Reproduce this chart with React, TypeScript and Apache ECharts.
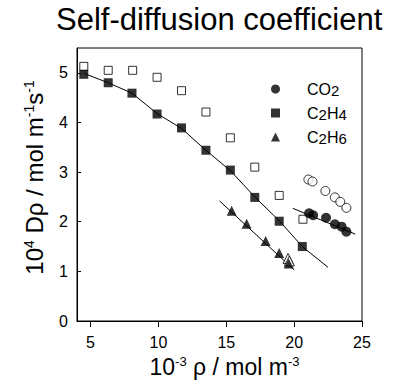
import React, { useEffect, useRef } from "react";
import * as echarts from "echarts";

const FONT = "'Liberation Sans', Arial, sans-serif";

const xTicks = [5, 10, 15, 20, 25];
const yTicks = [0, 1, 2, 3, 4, 5];

const c2h4X = [4.5, 6.3, 8.05, 9.9, 11.7, 13.5, 15.3, 17.1, 18.9, 20.6];
const c2h4Y = [4.97, 4.8, 4.59, 4.17, 3.89, 3.44, 3.04, 2.49, 2.01, 1.5];
const c2h4OpenX = [4.5, 6.3, 8.1, 9.9, 11.7, 13.5, 15.3, 17.1, 18.9, 20.65];
const c2h4OpenY = [5.13, 5.05, 5.05, 4.91, 4.64, 4.21, 3.69, 3.1, 2.53, 2.05];
const c2h4FitX = [4.5, 6.3, 8.05, 9.9, 11.7, 13.5, 15.3, 17.1, 18.9, 20.6, 22.5];
const c2h4FitY = [4.99, 4.8, 4.59, 4.18, 3.88, 3.44, 3.03, 2.5, 2.02, 1.5, 1.08];

const c2h6X = [15.4, 16.5, 17.9, 18.9, 19.6];
const c2h6Y = [2.22, 1.96, 1.61, 1.37, 1.16];
const c2h6OpenX = [19.55, 19.65];
const c2h6OpenY = [1.26, 1.21];
const c2h6FitX = [14.5, 20.0];
const c2h6FitY = [2.42, 1.03];

const co2X = [21.1, 21.4, 22.35, 23.0, 23.5, 23.85];
const co2Y = [2.17, 2.13, 2.08, 1.95, 1.9, 1.8];
const co2OpenX = [21.05, 21.35, 22.3, 23.0, 23.4, 23.85];
const co2OpenY = [2.85, 2.81, 2.62, 2.49, 2.4, 2.28];
const co2FitX = [19.9, 24.5];
const co2FitY = [2.27, 1.75];

const legendNames = ["CO2", "C2H4", "C2H6"];
const legendIcons = ["circle", "rect", "triangle"];

const zip = (xs: number[], ys: number[]) => xs.map((x, i) => [x, ys[i]]);

export default function App() {
  const ref = useRef<HTMLDivElement>(null);
  useEffect(() => {
    if (!ref.current) return;
    const chart = echarts.init(ref.current, undefined, { renderer: "svg" });
    const filled = (name: string, symbol: string, size: number, xs: number[], ys: number[]) => ({
      name,
      type: "scatter",
      symbol,
      symbolSize: size,
      data: zip(xs, ys),
      itemStyle: { color: "#000" },
      z: 4,
    });
    const open = (symbol: string, size: number, xs: number[], ys: number[]) => ({
      type: "scatter",
      symbol,
      symbolSize: size,
      data: zip(xs, ys),
      itemStyle: { color: "#fff", borderColor: "#000", borderWidth: 1 },
      z: 3,
    });
    const fit = (xs: number[], ys: number[]) => ({
      type: "line",
      data: zip(xs, ys),
      showSymbol: false,
      symbol: "none",
      lineStyle: { color: "#000", width: 1 },
      z: 2,
    });
    const supStyle = { fontFamily: FONT, fontSize: 13, lineHeight: 12, verticalAlign: "top", color: "#000" };
    chart.setOption({
      animation: false,
      backgroundColor: "#fff",
      title: {
        text: "Self-diffusion coefficient",
        left: 56,
        top: 4,
        padding: 0,
        textStyle: { fontFamily: FONT, fontSize: 31, fontWeight: "normal", color: "#000" },
      },
      legend: {
        data: legendNames.map((n, i) => ({ name: n, icon: legendIcons[i] })),
        orient: "vertical",
        left: 271,
        top: 81,
        padding: 0,
        itemWidth: 9,
        itemHeight: 9,
        itemGap: 7,
        selectedMode: false,
        formatter: (n: string) => n.replace(/(\D+)/g, "{n|$1}").replace(/(\d)/g, "{s|$1}"),
        textStyle: {
          fontFamily: FONT,
          color: "#000",
          padding: [0, 0, 0, 22],
          rich: {
            n: { fontFamily: FONT, fontSize: 16, lineHeight: 18, color: "#000", verticalAlign: "middle" },
            s: { fontFamily: FONT, fontSize: 15, lineHeight: 10, color: "#000", verticalAlign: "bottom" },
          },
        },
      },
      grid: {
        left: 77,
        right: 33,
        top: 48,
        bottom: 64,
        show: true,
        borderColor: "#000",
        borderWidth: 1,
      },
      xAxis: {
        type: "value",
        min: 4,
        max: 25,
        name: "10{sup|-3} ρ / mol m{sup|-3}",
        nameLocation: "middle",
        nameGap: 34,
        nameTextStyle: {
          fontFamily: FONT,
          fontSize: 23,
          color: "#000",
          padding: [0, 0, 0, 10],
          rich: { sup: supStyle },
        },
        splitLine: { show: false },
        axisLine: { lineStyle: { color: "#000", width: 1 } },
        axisTick: { show: true, inside: false, length: 6, lineStyle: { color: "#000" }, customValues: xTicks },
        axisLabel: { fontFamily: FONT, fontSize: 16, color: "#000", margin: 13, customValues: xTicks },
      },
      yAxis: {
        type: "value",
        min: 0,
        max: 5.5,
        name: "{pad| }10{sup|4} Dρ / mol m{sup|-1}s{sup|-1}",
        nameLocation: "middle",
        nameGap: 31,
        nameTextStyle: {
          fontFamily: FONT,
          fontSize: 24,
          color: "#000",
          rich: { sup: { ...supStyle, fontSize: 14 }, pad: { fontFamily: FONT, fontSize: 24, width: 14 } },
        },
        splitLine: { show: false },
        axisLine: { show: true, lineStyle: { color: "#000", width: 1 } },
        axisTick: { show: true, inside: true, length: 4, lineStyle: { color: "#000" }, customValues: yTicks },
        axisLabel: { fontFamily: FONT, fontSize: 16, color: "#000", margin: 9, customValues: yTicks },
      },
      series: [
        fit(c2h4FitX, c2h4FitY),
        fit(c2h6FitX, c2h6FitY),
        fit(co2FitX, co2FitY),
        open("rect", 8, c2h4OpenX, c2h4OpenY),
        open("triangle", 10, c2h6OpenX, c2h6OpenY),
        open("circle", 9, co2OpenX, co2OpenY),
        filled("CO2", "circle", 10, co2X, co2Y),
        filled("C2H4", "rect", 9, c2h4X, c2h4Y),
        filled("C2H6", "triangle", 10, c2h6X, c2h6Y),
      ],
    });
    return () => chart.dispose();
  }, []);
  return <div ref={ref} style={{ width: 395, height: 385, position: "absolute", left: 0, top: 0 }} />;
}
